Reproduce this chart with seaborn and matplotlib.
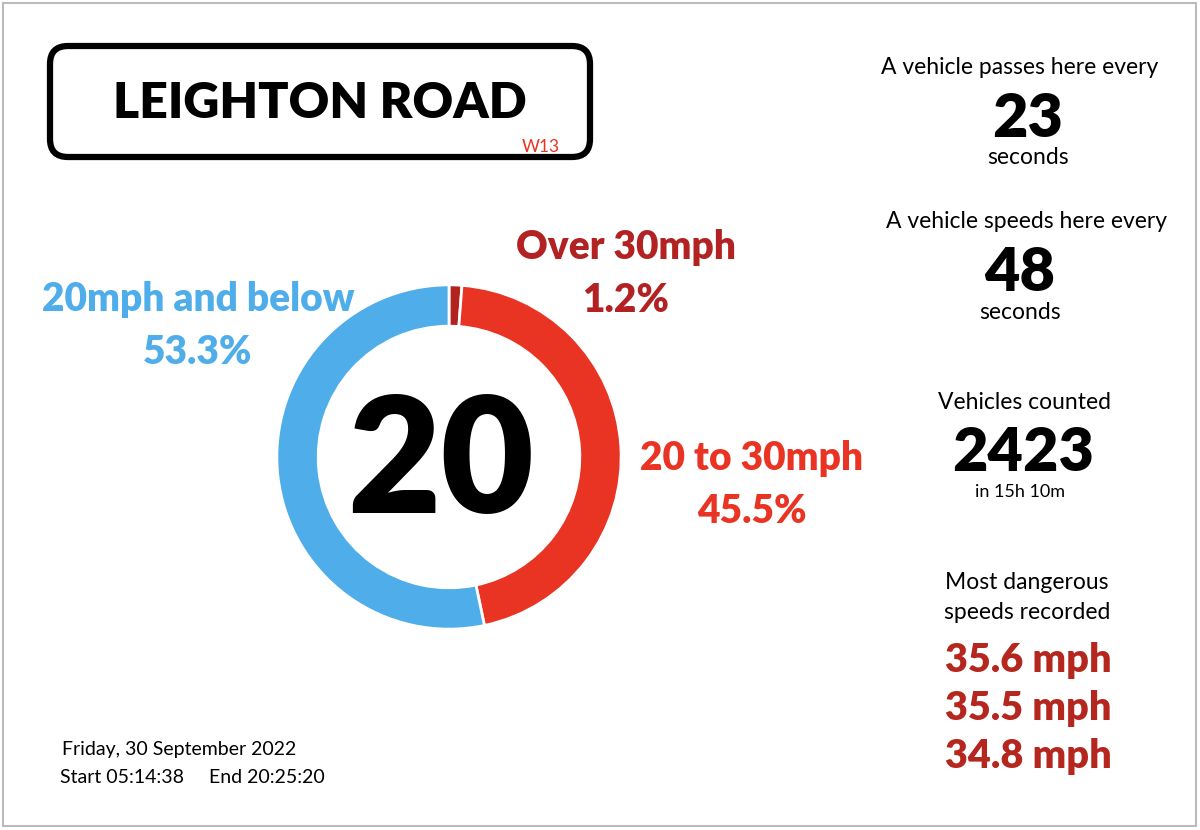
import matplotlib
matplotlib.use("Agg")
import matplotlib.pyplot as plt
import seaborn as sns
from matplotlib.patches import FancyBboxPatch, Rectangle

sns.set_theme(style="white")
plt.rcParams["font.family"] = ["Lato", "DejaVu Sans"]
plt.rcParams["text.color"] = "black"

# data
road_name = "LEIGHTON ROAD"
postcode = "W13"
speed_limit = 20
band_labels = ["Over 30mph", "20 to 30mph", "20mph and below"]
band_share = [1.2, 45.5, 53.3]
band_colors = ["#B2221E", "#E93323", "#4FADE9"]
pass_every = 23
speed_every = 48
vehicles_counted = 2423
count_window = "in 15h 10m"
top_speeds = [35.6, 35.5, 34.8]
survey_date = "Friday, 30 September 2022"
start_time = "05:14:38"
end_time = "20:25:20"

W, H = 1200, 830
BOLD = "heavy"
fig = plt.figure(figsize=(W / 100, H / 100), dpi=100)
fig.patch.set_facecolor("white")

# overlay axes in pixel coordinates
ax = fig.add_axes([0, 0, 1, 1])
ax.set_xlim(0, W)
ax.set_ylim(H, 0)
ax.axis("off")

ax.add_patch(Rectangle((3, 3), W - 7, H - 7, fill=False, edgecolor="#BBBBBB", lw=1.5))

# road sign
ax.add_patch(FancyBboxPatch((50, 46), 540, 111, boxstyle="round,pad=0,rounding_size=18",
                            fill=False, edgecolor="black", lw=4.5))
ax.text(320, 104, road_name, ha="center", va="center", fontsize=36, fontweight=BOLD)
ax.text(541, 147, postcode, ha="center", va="center", fontsize=12.5, color="#E93323")

# donut
cx, cy, r = 449, 457, 173
dax = fig.add_axes([(cx - r) / W, 1 - (cy + r) / H, 2 * r / W, 2 * r / H])
dax.pie(band_share, colors=band_colors, startangle=90, counterclock=False, radius=1,
        wedgeprops=dict(width=0.24, edgecolor="white", linewidth=2))
dax.set_xlim(-1.005, 1.005)
dax.set_ylim(-1.005, 1.005)
dax.axis("off")

ax.text(cx - 8, cy + 9, str(speed_limit), ha="center", va="center", fontsize=116, fontweight=BOLD)

label_pos = [(626, 247, 300), (752, 458, 511), (198, 299, 352)]
for lab, share, col, (x, y1, y2) in zip(band_labels, band_share, band_colors, label_pos):
    tc = "#B22222" if lab.startswith("Over") else col
    ax.text(x, y1, lab, ha="center", va="center", fontsize=28, fontweight=BOLD, color=tc)
    ax.text(x, y2, f"{share}%", ha="center", va="center", fontsize=28, fontweight=BOLD, color=tc)

# right column
rx = 1020
ax.text(rx, 67, "A vehicle passes here every", ha="center", va="center", fontsize=16.5)
ax.text(rx + 8, 119, str(pass_every), ha="center", va="center", fontsize=44, fontweight=BOLD)
ax.text(rx + 8, 157, "seconds", ha="center", va="center", fontsize=16.5)

ax.text(rx + 6, 221, "A vehicle speeds here every", ha="center", va="center", fontsize=16.5)
ax.text(rx, 273, str(speed_every), ha="center", va="center", fontsize=44, fontweight=BOLD)
ax.text(rx, 312, "seconds", ha="center", va="center", fontsize=16.5)

ax.text(rx + 4, 402, "Vehicles counted", ha="center", va="center", fontsize=16.5)
ax.text(rx + 3, 453, str(vehicles_counted), ha="center", va="center", fontsize=44, fontweight=BOLD)
ax.text(rx, 492, count_window, ha="center", va="center", fontsize=13)

ax.text(rx + 7, 582, "Most dangerous", ha="center", va="center", fontsize=16.5)
ax.text(rx + 7, 612, "speeds recorded", ha="center", va="center", fontsize=16.5)
for i, s in enumerate(top_speeds):
    ax.text(rx + 8, 660 + i * 48, f"{s} mph", ha="center", va="center", fontsize=28.5,
            fontweight=BOLD, color="#B5261E")

# survey details
ax.text(62, 749, survey_date, ha="left", va="center", fontsize=14)
ax.text(60, 777, f"Start {start_time}     End {end_time}", ha="left", va="center", fontsize=14)

fig.savefig("out.png", dpi=100, facecolor="white")
